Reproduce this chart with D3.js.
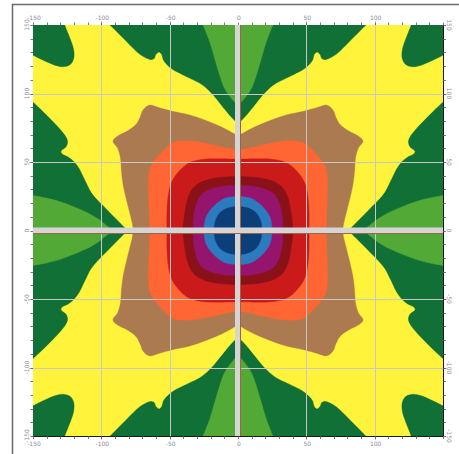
<!DOCTYPE html>
<html>
<head>
<meta charset="utf-8">
<script src="https://cdn.jsdelivr.net/npm/d3@7"></script>
<style>
  html, body { margin: 0; padding: 0; background: #ffffff; }
  svg { display: block; }
</style>
</head>
<body>
<svg id="chart" width="459" height="454"></svg>
<script>
// ---- Axis ticks (degrees) ----
const gridTicks   = [-100, -50, 50, 100];
const xTickLabels = [-150, -100, -50, 0, 50, 100];
const yTickLabels = [-150, -100, -50, 0, 50, 100, 150];

// ---- Contour levels, lowest to highest ----
const levelNames  = ["L0", "L1", "L2", "L3", "L4", "L5", "L6", "L7", "L8", "L9"];
const levelColors = ["#52a935", "#117036", "#fff43b", "#ab7a50", "#ff6633",
                     "#cb1a1a", "#8b1118", "#95156e", "#2c7bbf", "#0c3f78"];

// ---- Contour boundaries in the phi<=0, psi>=0 quadrant (degrees).
//      The surface is mirror-symmetric about both axes. ----
const edgeL0Top  = [[-25.6,150],[-20.7,137.8],[-17.1,125.6],[-13.4,113.4],[-9.8,103.7],[-3.7,95.1],[0,91.5]];
const edgeL0Left = [[-150,25.6],[-140.2,23.7],[-130.5,21.2],[-120.7,17.6],[-111,13.4],[-102.4,8.5],[-96.3,3.7],[-91.5,0]];
const edgeL2Top  = [[-93.9,150],[-90.2,146.3],[-86.6,142.7],[-81.7,137.8],[-76.8,132.9],[-72,128.5],[-67.1,125.6],
                    [-63.4,124.4],[-61,125.6],[-59.8,128.5],[-57.8,130],[-56.1,128.5],[-54.9,124.4],[-52.4,121.2],
                    [-47.6,117.1],[-41.5,113.9],[-35.4,111],[-28,107.3],[-23.2,103.7],[-18.3,98.8],[-13.4,92.7],
                    [-8.5,86.6],[-3.7,81.2],[0,78]];
const edgeL2Left = [[-150,93.9],[-142.7,87.1],[-135.4,79.8],[-129.3,73.2],[-125.6,68.3],[-124.4,64.6],[-125.6,61],
                    [-129.3,57.8],[-128.5,56.1],[-124.4,54.1],[-119.5,50],[-115.9,45.1],[-112.9,39],[-110.5,34.1],
                    [-107.3,28],[-102.4,22],[-96.3,15.9],[-91.5,11],[-86.6,6.1],[-80.5,0]];
const edgeL1Corner = [[-126.8,150],[-124.4,143.9],[-122,137.8],[-120.2,131.7],[-120.2,125.6],[-122.7,121.2],
                      [-128,119.5],[-134.1,120.7],[-140.2,123.2],[-146.3,126.1],[-150,128]];
const edgeL3 = [[0,69],[-12,75.5],[-24,80.5],[-36,84.5],[-48,87],[-58,89.7],[-65,91.5],[-69.5,88],[-71.5,83],
                [-74.5,77.5],[-81,72.6],[-88,69],[-91.5,65.3],[-88,60],[-86,53],[-85.3,43.4],[-84,33],[-82,24],
                [-79.5,14],[-77.5,6],[-76.5,0]];
const edgeL4 = [[0,58.5],[-10,60.5],[-20,63],[-30,64.8],[-40,65.5],[-48,64],[-54,59],[-59.5,53],[-64,46],
                [-65.5,38],[-65.5,28],[-65,15],[-64.5,0]];
const edgeL5 = [[0,52],[-13,52.3],[-25,52],[-35.5,49.5],[-43,43.4],[-48.5,35.5],[-51,26],[-52,13],[-52,0]];
const edgeL6 = [[0,39.5],[-15.5,38.5],[-25.5,36],[-32,32],[-36,25.5],[-38.5,15.5],[-40.5,0]];
const edgeL7 = [[0,33],[-11,32.3],[-20.5,30],[-26.5,26.5],[-30,20.5],[-32.3,11],[-33,0]];
const edgeL8 = [[0,25],[-9.5,23.5],[-17.7,17.7],[-23.5,9.5],[-25,0]];
const edgeL9 = [[0,17.6],[-6.9,16.6],[-13.1,13.1],[-16.6,6.9],[-17.6,0]];

// ---- Layout ----
const svg = d3.select("#chart");
const plot = { left: 33, top: 25, right: 443, bottom: 436 };
const x = d3.scaleLinear().domain([-150, 150]).range([plot.left, plot.right]);
const y = d3.scaleLinear().domain([-150, 150]).range([plot.bottom, plot.top]);
const color = d3.scaleOrdinal(levelNames, levelColors);

// Outer panel frame
svg.append("path")
  .attr("d", "M12.5,454 L12.5,4.5 L459,4.5")
  .attr("fill", "none").attr("stroke", "#6a6a6a").attr("stroke-width", 1.5);

// Filled regions: each quadrant shape is a list of pieces (smooth boundary or straight corners)
const regions = [
  { level: "L0", pieces: [{ pts: edgeL0Top, smooth: true }, { pts: [[0,150]] }] },
  { level: "L0", pieces: [{ pts: edgeL0Left, smooth: true }, { pts: [[-150,0]] }] },
  { level: "L2", pieces: [{ pts: edgeL2Top, smooth: true }, { pts: [[0,0]] },
                          { pts: edgeL2Left.slice().reverse(), smooth: true }, { pts: [[-150,150]] }] },
  { level: "L1", pieces: [{ pts: edgeL1Corner, smooth: true }, { pts: [[-150,150]] }] },
  { level: "L3", pieces: [{ pts: edgeL3, smooth: true }, { pts: [[0,0]] }] },
  { level: "L4", pieces: [{ pts: edgeL4, smooth: true }, { pts: [[0,0]] }] },
  { level: "L5", pieces: [{ pts: edgeL5, smooth: true }, { pts: [[0,0]] }] },
  { level: "L6", pieces: [{ pts: edgeL6, smooth: true }, { pts: [[0,0]] }] },
  { level: "L7", pieces: [{ pts: edgeL7, smooth: true }, { pts: [[0,0]] }] },
  { level: "L8", pieces: [{ pts: edgeL8, smooth: true }, { pts: [[0,0]] }] },
  { level: "L9", pieces: [{ pts: edgeL9, smooth: true }, { pts: [[0,0]] }] }
];

const curved = d3.line().x(d => x(d[0])).y(d => y(d[1])).curve(d3.curveCatmullRom.alpha(0.5));

// Joins the pieces of one region into a single closed outline, mirrored by (sx, sy)
function regionPath(pieces, sx, sy) {
  let d = "";
  pieces.forEach((p, i) => {
    const pts = p.pts.map(([a, b]) => [sx * a, sy * b]);
    if (p.smooth) {
      const s = curved(pts);
      d += (i > 0 ? "L" : "M") + s.slice(1);
    } else {
      pts.forEach(([a, b], j) => {
        d += (i === 0 && j === 0 ? "M" : "L") + x(a) + "," + y(b);
      });
    }
  });
  return d + "Z";
}

svg.append("clipPath").attr("id", "plotClip")
  .append("rect")
  .attr("x", plot.left).attr("y", plot.top)
  .attr("width", plot.right - plot.left).attr("height", plot.bottom - plot.top);

const field = svg.append("g").attr("clip-path", "url(#plotClip)");

field.append("rect")
  .attr("x", plot.left).attr("y", plot.top)
  .attr("width", plot.right - plot.left).attr("height", plot.bottom - plot.top)
  .attr("fill", color("L1"));

const quadrants = [[1, 1], [-1, 1], [1, -1], [-1, -1]];
regions.forEach(r => {
  quadrants.forEach(([sx, sy]) => {
    field.append("path")
      .attr("d", regionPath(r.pieces, sx, sy))
      .attr("fill", color(r.level))
      .attr("stroke", color(r.level))
      .attr("stroke-width", 0.4);
  });
});

// Grid lines every 50 degrees
const grid = svg.append("g").attr("stroke", "#c8c8c8").attr("stroke-width", 1);
gridTicks.forEach(t => {
  grid.append("line")
    .attr("x1", Math.round(x(t)) + 0.5).attr("x2", Math.round(x(t)) + 0.5)
    .attr("y1", plot.top - 4).attr("y2", plot.bottom + 4);
  grid.append("line")
    .attr("y1", Math.round(y(t)) + 0.5).attr("y2", Math.round(y(t)) + 0.5)
    .attr("x1", plot.left - 4).attr("x2", plot.right + 4);
});

// Zero bands
const band = svg.append("g");
band.append("rect")
  .attr("x", x(0) - 3).attr("y", plot.top).attr("width", 6).attr("height", plot.bottom - plot.top)
  .attr("fill", "#d5d5d5");
band.append("line")
  .attr("x1", x(0) + 2.5).attr("x2", x(0) + 2.5).attr("y1", plot.top).attr("y2", plot.bottom)
  .attr("stroke", "#a0634a").attr("stroke-width", 1);
band.append("rect")
  .attr("y", y(0) - 3).attr("x", plot.left).attr("height", 6).attr("width", plot.right - plot.left)
  .attr("fill", "#d5d5d5");
band.append("line")
  .attr("y1", y(0) + 3).attr("y2", y(0) + 3).attr("x1", plot.left).attr("x2", plot.right)
  .attr("stroke", "#a0634a").attr("stroke-width", 1);

// Plot border (right and bottom)
svg.append("path")
  .attr("d", `M${plot.right + 0.5},${plot.top} L${plot.right + 0.5},${plot.bottom + 0.5} L${plot.left},${plot.bottom + 0.5}`)
  .attr("fill", "none").attr("stroke", "#1a1a1a").attr("stroke-width", 1);

// Minor ticks every 10 degrees on all four sides
const minor = d3.range(-150, 151, 10);
const ticks = svg.append("g").attr("stroke", "#555").attr("stroke-width", 0.8);
minor.forEach(t => {
  const px = Math.round(x(t)) + 0.5, py = Math.round(y(t)) + 0.5;
  ticks.append("line").attr("x1", px).attr("x2", px).attr("y1", plot.top - 2.5).attr("y2", plot.top);
  ticks.append("line").attr("x1", px).attr("x2", px).attr("y1", plot.bottom).attr("y2", plot.bottom + 3);
  ticks.append("line").attr("y1", py).attr("y2", py).attr("x1", plot.left - 2.5).attr("x2", plot.left);
  ticks.append("line").attr("y1", py).attr("y2", py).attr("x1", plot.right).attr("x2", plot.right + 3);
});

// Tick labels
const labelStyle = sel => sel.attr("font-family", "DejaVu Sans, sans-serif")
  .attr("font-size", 6).attr("fill", "#8a8a98").attr("text-anchor", "middle");

xTickLabels.forEach(t => {
  svg.append("text").call(labelStyle).attr("x", x(t) + 1).attr("y", plot.top - 5).text(t);
  svg.append("text").call(labelStyle).attr("x", x(t) + 1).attr("y", plot.bottom + 10).text(t);
});
yTickLabels.forEach(t => {
  svg.append("text").call(labelStyle)
    .attr("transform", `translate(${plot.left - 4},${y(t)}) rotate(-90)`).text(t);
  svg.append("text").call(labelStyle)
    .attr("transform", `translate(${plot.right + 4},${y(t)}) rotate(90)`).text(t);
});
</script>
</body>
</html>
